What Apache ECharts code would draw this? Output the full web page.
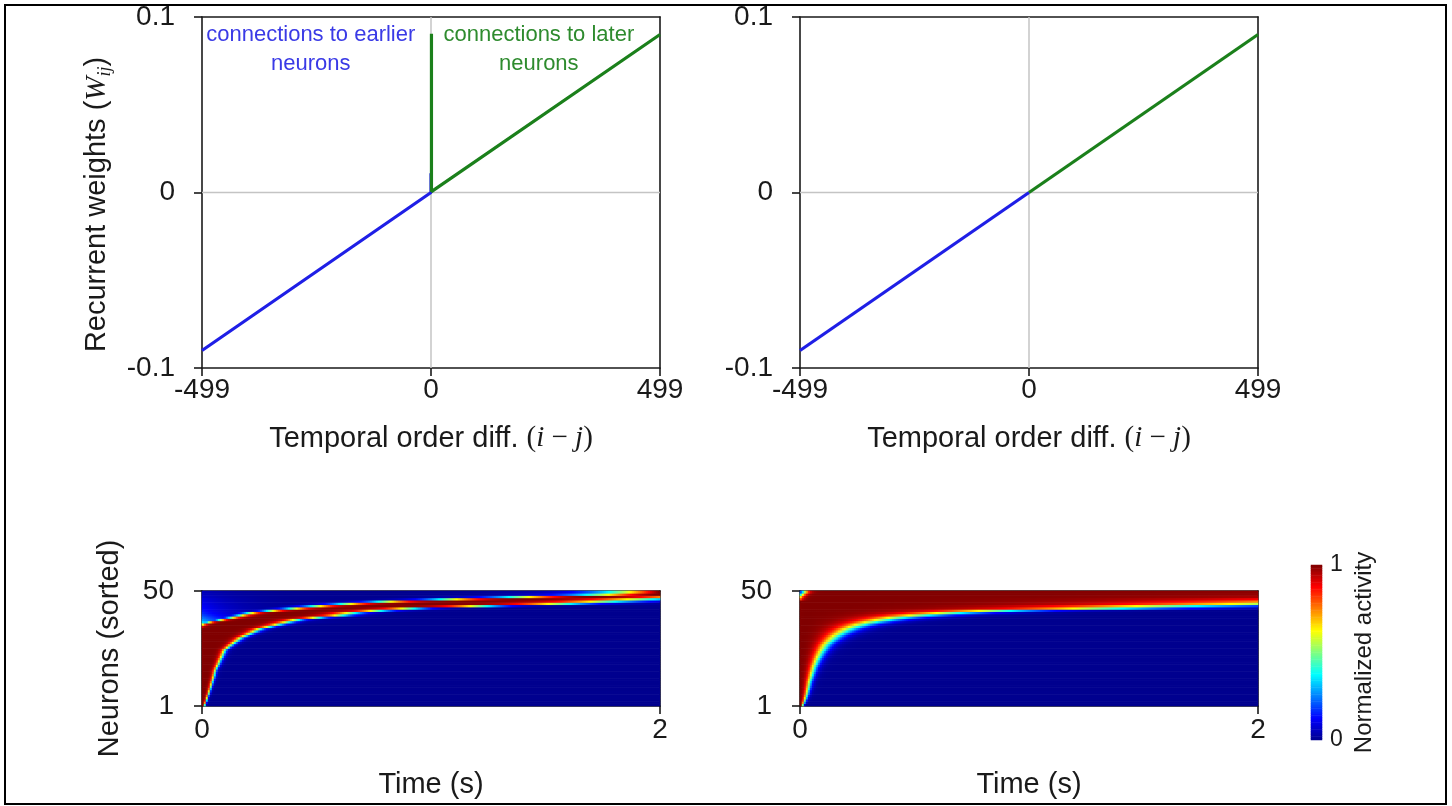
<!DOCTYPE html>
<html><head><meta charset="utf-8">
<script src="https://cdn.jsdelivr.net/npm/echarts@6/dist/echarts.min.js"></script>
<style>html,body{margin:0;padding:0;background:#fff}#c{width:1452px;height:806px}</style>
</head><body><div id="c"></div>
<script>
// ---------- top panels: recurrent weight profiles (i-j, W_ij) ----------
const leftBlue  = [[-499, -0.09], [0, 0], [0, 0.011]];
const leftGreen = [[1, 0.0905], [1, 0.0005], [499, 0.09]];
const rightBlue  = [[-499, -0.09], [0, 0]];
const rightGreen = [[0, 0], [499, 0.09]];
const crossH = [[-499, 0], [499, 0]];
const crossV = [[0, -0.1], [0, 0.1]];

// ---------- bottom panels: per-neuron activity window (s), neuron 1..50 ----------
const leftOnset = [-0.05,-0.05,-0.05,-0.05,-0.05,-0.05,-0.05,-0.05,-0.05,-0.05,
  -0.05,-0.05,-0.05,-0.05,-0.05,-0.05,-0.05,-0.05,-0.05,-0.05,
  -0.05,-0.05,-0.05,-0.05,-0.05,-0.05,-0.05,-0.05,-0.05,-0.05,
  -0.05,-0.05,-0.05,-0.05,-0.02,0.0,0.03,0.08,0.13,0.17,
  0.21,0.3,0.4,0.5,0.63,0.8,1.08,1.4,1.8,1.95];
const leftOffset = [0.012,0.016,0.02,0.023,0.026,0.03,0.033,0.036,0.039,0.042,
  0.045,0.048,0.051,0.054,0.056,0.058,0.063,0.068,0.073,0.077,
  0.082,0.087,0.091,0.096,0.1,0.113,0.126,0.14,0.153,0.166,
  0.187,0.208,0.229,0.25,0.29,0.33,0.37,0.41,0.5,0.6,
  0.65,0.76,0.9,1.21,1.56,1.75,1.91,2.1,2.2,2.3];
// faint early activity of the not-yet-recruited neurons (normalized, at t = 0)
const leftInitial = [0,0,0,0,0,0,0,0,0,0, 0,0,0,0,0,0,0,0,0,0,
  0,0,0,0,0,0,0,0,0,0, 0,0,0,0,0,0,0.35,0.28,0.24,0.2,
  0.17,0.15,0.13,0.12,0.11,0.1,0.09,0.07,0.06,0.05];
const rightOnset = [-0.05,-0.05,-0.05,-0.05,-0.05,-0.05,-0.05,-0.05,-0.05,-0.05,
  -0.05,-0.05,-0.05,-0.05,-0.05,-0.05,-0.05,-0.05,-0.05,-0.05,
  -0.05,-0.05,-0.05,-0.05,-0.05,-0.05,-0.05,-0.05,-0.05,-0.05,
  -0.05,-0.05,-0.05,-0.05,-0.05,-0.05,-0.05,-0.05,-0.05,-0.05,
  -0.05,-0.05,-0.05,-0.05,-0.05,-0.05,-0.01,-0.002,0.008,0.02];
const rightOffset = [0.012,0.017,0.021,0.025,0.028,0.031,0.033,0.036,0.038,0.04,
  0.042,0.045,0.048,0.051,0.054,0.057,0.06,0.064,0.068,0.072,
  0.077,0.082,0.087,0.093,0.099,0.105,0.112,0.122,0.133,0.145,
  0.158,0.172,0.19,0.21,0.235,0.265,0.31,0.36,0.42,0.52,
  0.65,0.85,1.3,1.6,2.05,2.4,2.9,4.0,5.0,6.0];
const rightInitial = new Array(50).fill(0);

const timeTickLabels = ['0', '2'];
const neuronTickLabels = ['1', '50'];
const jet = ['#00008f','#0000ff','#0080ff','#00ffff','#80ff80','#ffff00','#ff8000','#ff0000','#800000'];

// ---------- build heatmap tables ----------
const NB = 229, T = 2;
const timeBins = Array.from({length: NB}, (_, i) => ((i + 0.5) * T / NB).toFixed(4));
const neuronCats = Array.from({length: 50}, (_, i) => String(i + 1));
function lg(z){ return 1 / (1 + Math.exp(-z)); }
function buildGrid(on, off, init, frac){
  const out = [];
  for (let k = 0; k < 50; k++) {
    const row = [];
    const sOn = 0.06 * Math.max(on[k], 0) + 0.01;
    const sOff = frac * off[k] + 0.002;
    let mx = 0;
    for (let b = 0; b < NB; b++) {
      const t = (b + 0.5) * T / NB;
      const v = lg((t - on[k]) / sOn) * lg((off[k] - t) / sOff);
      row.push(v); if (v > mx) mx = v;
    }
    for (let b = 0; b < NB; b++) {
      const t = (b + 0.5) * T / NB;
      const v = Math.max(row[b] / mx, init[k] * Math.exp(-t / 0.15));
      out.push([b, k, Math.round(v * 1000) / 1000]);
    }
  }
  return out;
}
const leftHeat = buildGrid(leftOnset, leftOffset, leftInitial, 0.06);
const rightHeat = buildGrid(rightOnset, rightOffset, rightInitial, 0.16);
const cbLevels = Array.from({length: 100}, (_, i) => String(i));
const cbData = cbLevels.map((_, i) => [0, i, (i + 0.5) / 100]);

// ---------- styles ----------
const FONT = 'Liberation Sans';
const AX = {color: '#1a1a1a', width: 1.6};
const tickLbl = {fontSize: 28, color: '#1a1a1a', fontFamily: FONT};
function borderAxis(gi, pos, min, max){
  return {type: 'value', gridIndex: gi, position: pos, min, max,
    axisLine: {show: true, onZero: false, lineStyle: AX}, axisTick: {show: false},
    axisLabel: {show: false}, splitLine: {show: false}};
}
const xName = {
  name: 'Temporal order diff. {m|(}{it|i}{m| − }{it|j}{m|)}',
  nameLocation: 'middle', nameGap: 56,
  nameTextStyle: {fontSize: 29, color: '#1a1a1a', fontFamily: FONT,
    rich: {m: {fontSize: 29, fontFamily: 'Liberation Serif', color: '#1a1a1a'},
           it: {fontSize: 29, fontFamily: 'Liberation Serif', fontStyle: 'italic', color: '#1a1a1a'}}}
};
function topX(gi){
  return Object.assign({type: 'value', gridIndex: gi, position: 'bottom', min: -499, max: 499, interval: 499,
    axisLine: {show: true, onZero: false, lineStyle: AX},
    axisTick: {show: true, inside: false, length: 8, lineStyle: AX},
    axisLabel: Object.assign({margin: 8}, tickLbl), splitLine: {show: false}}, xName);
}
function topY(gi, withName){
  const a = {type: 'value', gridIndex: gi, position: 'left', min: -0.1, max: 0.1, interval: 0.1,
    axisLine: {show: true, onZero: false, lineStyle: AX},
    axisTick: {show: true, length: 8, lineStyle: AX},
    axisLabel: Object.assign({margin: 27, formatter: v => (Math.abs(v) < 1e-9 ? '0' : String(+v.toFixed(1)))}, tickLbl),
    splitLine: {show: false}};
  if (withName) Object.assign(a, {
    name: 'Recurrent weights ({it|W}{sub|ij})', nameLocation: 'middle', nameGap: 88,
    nameTextStyle: {fontSize: 29, color: '#1a1a1a', fontFamily: FONT, padding: [0, 24, 0, 0],
      rich: {it: {fontSize: 29, fontFamily: 'Liberation Serif', fontStyle: 'italic', color: '#1a1a1a'},
             sub: {fontSize: 18, fontFamily: 'Liberation Serif', fontStyle: 'italic', color: '#1a1a1a', verticalAlign: 'bottom', lineHeight: 34}}}
  });
  return a;
}
function heatX(gi){ return {type: 'category', gridIndex: gi, data: timeBins, show: false}; }
function heatY(gi){ return {type: 'category', gridIndex: gi, data: neuronCats, show: false}; }
function timeX(gi){
  return {type: 'value', gridIndex: gi, position: 'bottom', min: 0, max: 2, interval: 2,
    axisLine: {show: true, onZero: false, lineStyle: AX},
    axisTick: {show: true, length: 8, lineStyle: AX},
    axisLabel: Object.assign({margin: 10, formatter: v => timeTickLabels[v === 0 ? 0 : 1]}, tickLbl),
    splitLine: {show: false},
    name: 'Time (s)', nameLocation: 'middle', nameGap: 64,
    nameTextStyle: {fontSize: 29, color: '#1a1a1a', fontFamily: FONT}};
}
function neuronY(gi, withName){
  const a = {type: 'value', gridIndex: gi, position: 'left', min: 0, max: 49, interval: 49,
    axisLine: {show: true, onZero: false, lineStyle: AX},
    axisTick: {show: true, length: 8, lineStyle: AX},
    axisLabel: Object.assign({margin: 28, formatter: v => neuronTickLabels[v === 0 ? 0 : 1]}, tickLbl),
    splitLine: {show: false}};
  if (withName) Object.assign(a, {name: 'Neurons (sorted)', nameLocation: 'middle', nameGap: 78,
    nameTextStyle: {fontSize: 29, color: '#1a1a1a', fontFamily: FONT}});
  return a;
}

const xAxis = [
  topX(0), borderAxis(0, 'top', -499, 499),                       // 0,1
  topX(1), borderAxis(1, 'top', -499, 499),                       // 2,3
  heatX(2), timeX(2), borderAxis(2, 'top', 0, 2),                 // 4,5,6
  heatX(3), timeX(3), borderAxis(3, 'top', 0, 2),                 // 7,8,9
  {type: 'category', gridIndex: 4, data: ['c'], show: false}      // 10
];
const yAxis = [
  topY(0, true), borderAxis(0, 'right', -0.1, 0.1),               // 0,1
  topY(1, false), borderAxis(1, 'right', -0.1, 0.1),              // 2,3
  heatY(2), neuronY(2, true), borderAxis(2, 'right', 0, 49),      // 4,5,6
  heatY(3), neuronY(3, false), borderAxis(3, 'right', 0, 49),     // 7,8,9
  {type: 'category', gridIndex: 4, data: cbLevels, show: false},  // 10
  {type: 'value', gridIndex: 4, position: 'right', min: 0, max: 1, interval: 1,
    axisLine: {show: false}, axisTick: {show: false}, splitLine: {show: false},
    axisLabel: {margin: 8, fontSize: 23, color: '#1a1a1a', fontFamily: FONT},
    name: 'Normalized activity', nameLocation: 'middle', nameGap: 30, nameRotate: 90,
    nameTextStyle: {fontSize: 24, color: '#1a1a1a', fontFamily: FONT}}  // 11
];

function line(xi, yi, data, color, w, z){
  return {type: 'line', xAxisIndex: xi, yAxisIndex: yi, data, symbol: 'none', silent: true,
    lineStyle: {color, width: w}, itemStyle: {color}, z, animation: false};
}
const BLUE = '#1f1fe6', GREEN = '#1b801b';
const series = [
  line(0, 0, crossH, '#c4c4c4', 1.5, 1), line(0, 0, crossV, '#c4c4c4', 1.5, 1),
  line(2, 2, crossH, '#c4c4c4', 1.5, 1), line(2, 2, crossV, '#c4c4c4', 1.5, 1),
  Object.assign(line(0, 0, leftBlue, BLUE, 3.2, 3), {
    markPoint: {silent: true, symbol: 'circle', symbolSize: 1, itemStyle: {color: 'rgba(0,0,0,0)'},
      label: {show: true, position: 'inside', formatter: 'connections to earlier\nneurons', color: '#3a3ae6',
        fontSize: 22, lineHeight: 29, fontFamily: FONT, align: 'center'},
      data: [{coord: [-262, 0.0815]}]}
  }),
  Object.assign(line(0, 0, leftGreen, GREEN, 3.2, 3), {
    markPoint: {silent: true, symbol: 'circle', symbolSize: 1, itemStyle: {color: 'rgba(0,0,0,0)'},
      label: {show: true, position: 'inside', formatter: 'connections to later\nneurons', color: '#2e8b2e',
        fontSize: 22, lineHeight: 29, fontFamily: FONT, align: 'center'},
      data: [{coord: [235, 0.0815]}]}
  }),
  line(2, 2, rightBlue, BLUE, 3.2, 3),
  line(2, 2, rightGreen, GREEN, 3.2, 3),
  {type: 'heatmap', xAxisIndex: 4, yAxisIndex: 4, data: leftHeat, progressive: 0, silent: true, animation: false},
  {type: 'heatmap', xAxisIndex: 7, yAxisIndex: 7, data: rightHeat, progressive: 0, silent: true, animation: false},
  {type: 'heatmap', xAxisIndex: 10, yAxisIndex: 10, data: cbData, progressive: 0, silent: true, animation: false}
];

const chart = echarts.init(document.getElementById('c'), null, {renderer: 'canvas'});
chart.setOption({
  animation: false,
  backgroundColor: '#ffffff',
  grid: [
    {left: 202, top: 17, width: 458, height: 351},
    {left: 800, top: 17, width: 458, height: 351},
    {left: 202, top: 591, width: 458, height: 115},
    {left: 800, top: 591, width: 458, height: 115},
    {left: 1311, top: 565, width: 11, height: 175}
  ],
  xAxis, yAxis,
  visualMap: {type: 'continuous', show: false, min: 0, max: 1, seriesIndex: [8, 9, 10], inRange: {color: jet}},
  graphic: [{type: 'rect', silent: true, z: 100, shape: {x: 5, y: 5, width: 1441, height: 799},
    style: {fill: 'none', stroke: '#000', lineWidth: 2}}],
  series
});
</script></body></html>
